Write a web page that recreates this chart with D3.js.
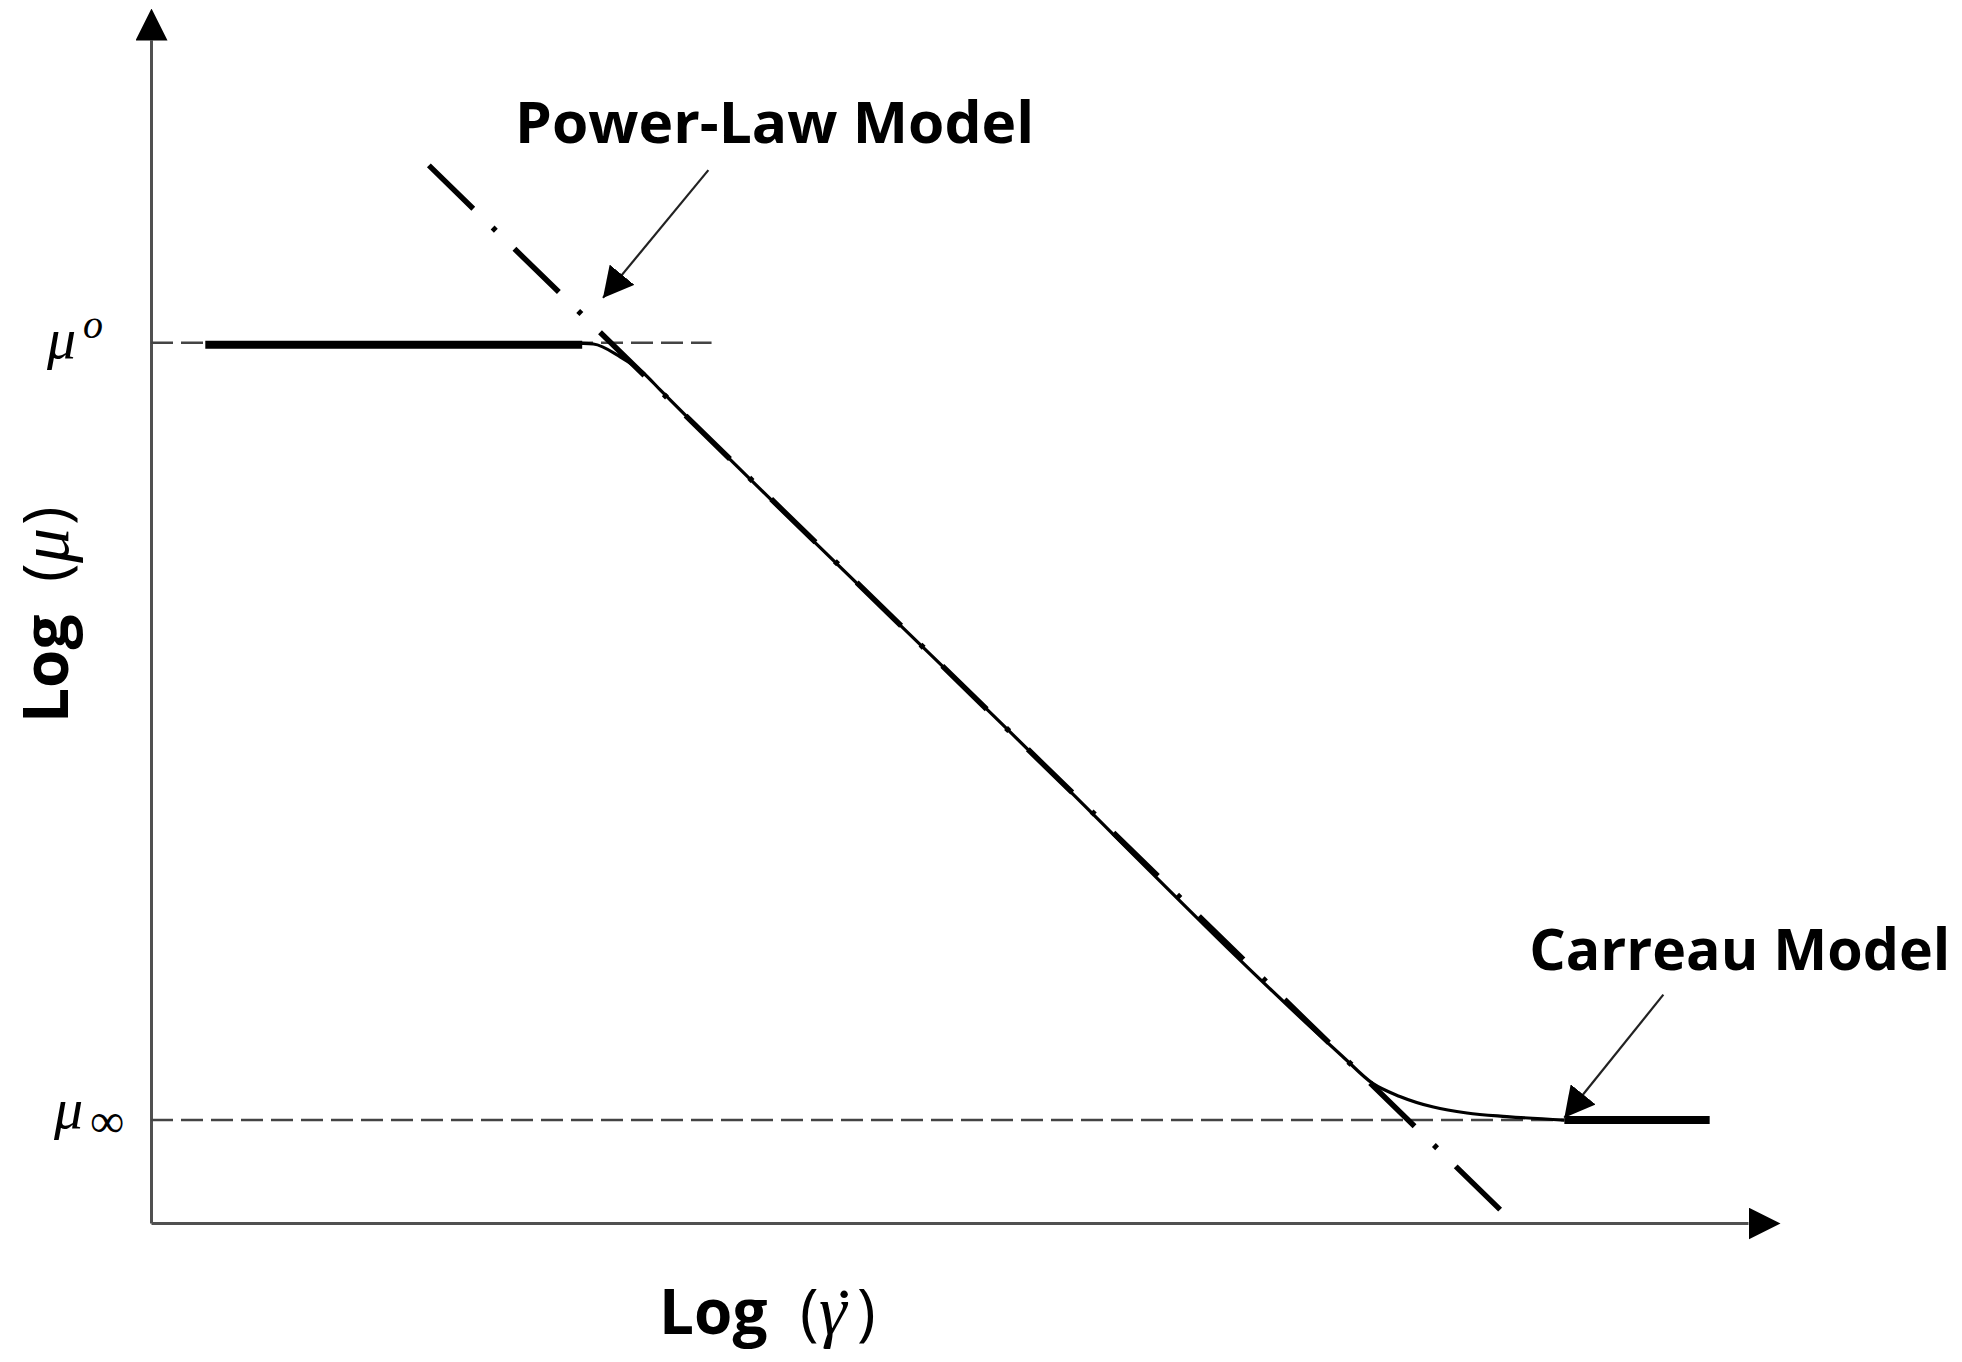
<!DOCTYPE html>
<html><head><meta charset="utf-8">
<script src="https://cdn.jsdelivr.net/npm/d3@7"></script>
<style>body{margin:0;background:#fff;overflow:hidden}</style>
</head><body>
<svg id="c" width="1962" height="1362"></svg>
<script>
// ---- data (log units: x = log shear rate, y = log viscosity) ----
const muZeroLevel = 7.44;      // μ°
const muInfLevel = 0.87;       // μ∞
const muZeroGuideX = [0, 3.51];
const muInfGuideX = [0, 8.85];
const plateauZeroX = [0.34, 2.70];
const plateauInfX = [8.85, 9.76];
const carreauX = [2.62, 2.77, 2.94, 3.08, 3.19, 5.32, 7.46, 7.65, 7.82, 8.03, 8.24, 8.49, 8.85];
const carreauY = [7.44, 7.43, 7.32, 7.19, 7.04, 4.23, 1.41, 1.18, 1.07, 0.98, 0.93, 0.90, 0.87];
const powerLawX = [1.74, 8.45];
const powerLawY = [8.94, 0.11];
const annotationLabels = ["Power-Law Model", "Carreau Model"];
const annotationLabelX = [2.28, 8.63];
const annotationLabelY = [9.13, 2.14];
const arrowFromX = [3.49, 9.47];
const arrowFromY = [8.90, 1.93];
const arrowToX = [2.83, 8.85];
const arrowToY = [7.82, 0.89];

// ---- layout ----
const svg = d3.select("#c");
const x = d3.scaleLinear().domain([0, 10]).range([151, 1748]);
const y = d3.scaleLinear().domain([0, 10]).range([1223, 40]);
const line = d3.line().x(d => x(d[0])).y(d => y(d[1]));

const defs = svg.append("defs");
defs.append("marker").attr("id", "axArrow")
  .attr("viewBox", "0 0 32 32").attr("refX", 0).attr("refY", 16)
  .attr("markerWidth", 32).attr("markerHeight", 32)
  .attr("markerUnits", "userSpaceOnUse").attr("orient", "auto")
  .append("path").attr("d", "M0,0L32,16L0,32Z").attr("fill", "#000");
defs.append("marker").attr("id", "noteArrow")
  .attr("viewBox", "0 0 30 32").attr("refX", 30).attr("refY", 16)
  .attr("markerWidth", 30).attr("markerHeight", 32)
  .attr("markerUnits", "userSpaceOnUse").attr("orient", "auto")
  .append("path").attr("d", "M0,0L30,16L0,32Z").attr("fill", "#000");

// axes
const gx = svg.append("g").attr("transform", `translate(0,${y(0)})`)
  .call(d3.axisBottom(x).tickValues([]).tickSizeOuter(0));
gx.select(".domain").attr("stroke", "#505050").attr("stroke-width", 3).attr("marker-end", "url(#axArrow)");
const gy = svg.append("g").attr("transform", `translate(${x(0)},0)`)
  .call(d3.axisLeft(y).tickValues([]).tickSizeOuter(0));
gy.select(".domain").attr("stroke", "#505050").attr("stroke-width", 3).attr("marker-end", "url(#axArrow)");

// guide dashed lines
svg.append("path").attr("d", line(muZeroGuideX.map(v => [v, muZeroLevel])))
  .attr("fill", "none").attr("stroke", "#444").attr("stroke-width", 2.5).attr("stroke-dasharray", "22 8");
svg.append("path").attr("d", line(muInfGuideX.map(v => [v, muInfLevel])))
  .attr("fill", "none").attr("stroke", "#444").attr("stroke-width", 2.5).attr("stroke-dasharray", "22 8");

// power-law dash-dot
svg.append("path").attr("d", line(powerLawX.map((v, i) => [v, powerLawY[i]])))
  .attr("fill", "none").attr("stroke", "#000").attr("stroke-width", 5.5)
  .attr("stroke-dasharray", "62 27 4.5 26");

// Carreau curve
const curveLine = d3.line().x(d => x(d[0])).y(d => y(d[1])).curve(d3.curveMonotoneX);
svg.append("path").attr("d", curveLine(carreauX.map((v, i) => [v, carreauY[i]])))
  .attr("fill", "none").attr("stroke", "#000").attr("stroke-width", 3.2);
svg.append("path").attr("d", line(plateauZeroX.map(v => [v, muZeroLevel])))
  .attr("fill", "none").attr("stroke", "#000").attr("stroke-width", 8).attr("transform", "translate(0,2)");
svg.append("path").attr("d", line(plateauInfX.map(v => [v, muInfLevel])))
  .attr("fill", "none").attr("stroke", "#000").attr("stroke-width", 8);

// annotation arrows and labels
annotationLabels.forEach((t, i) => {
  svg.append("line")
    .attr("x1", x(arrowFromX[i])).attr("y1", y(arrowFromY[i]))
    .attr("x2", x(arrowToX[i])).attr("y2", y(arrowToY[i]))
    .attr("stroke", "#222").attr("stroke-width", 2.2).attr("marker-end", "url(#noteArrow)");
  svg.append("text").attr("x", x(annotationLabelX[i])).attr("y", y(annotationLabelY[i]))
    .attr("font-family", "Open Sans, sans-serif").attr("font-weight", 700)
    .attr("font-size", 58).attr("fill", "#000")
    .attr("textLength", i === 0 ? 519 : 421).attr("lengthAdjust", "spacingAndGlyphs")
    .text(t);
});

// y-level labels
const serif = "Liberation Serif, DejaVu Serif, serif";
const lz = svg.append("text").attr("font-family", serif).attr("font-style", "italic").attr("fill", "#000");
lz.append("tspan").attr("x", 47).attr("y", 358).attr("font-size", 58).text("μ");
lz.append("tspan").attr("x", 83).attr("y", 338).attr("font-size", 40).text("o");
const li = svg.append("text").attr("font-family", serif).attr("fill", "#000");
li.append("tspan").attr("x", 54).attr("y", 1128).attr("font-size", 58).attr("font-style", "italic").text("μ");
li.append("tspan").attr("x", 90).attr("y", 1137).attr("font-size", 48).text("∞");

// axis titles
function axisTitle(g, sym, dotted) {
  const t = g.append("text").attr("fill", "#000");
  t.append("tspan").attr("x", 0).attr("y", 0).attr("font-family", "Open Sans, sans-serif")
    .attr("font-weight", 700).attr("font-size", 62).text("Log");
  t.append("tspan").attr("x", 141).attr("y", 0).attr("font-family", "Open Sans, sans-serif")
    .attr("font-weight", 400).attr("font-size", 63).text("(");
  const s = t.append("tspan").attr("font-family", serif)
    .attr("font-style", "italic").attr("font-size", 70);
  if (dotted) {
    s.attr("x", "160 169").attr("y", "0 3").text(sym + "\u02D9");
  } else {
    s.attr("x", 160).attr("y", 0).text(sym);
  }
  t.append("tspan").attr("x", 198).attr("y", 0).attr("font-family", "Open Sans, sans-serif")
    .attr("font-weight", 400).attr("font-size", 63).text(")");
}
axisTitle(svg.append("g").attr("transform", "translate(659,1334)"), "γ", true);
axisTitle(svg.append("g").attr("transform", "translate(68,723) rotate(-90)"), "μ", false);
</script>
</body></html>
